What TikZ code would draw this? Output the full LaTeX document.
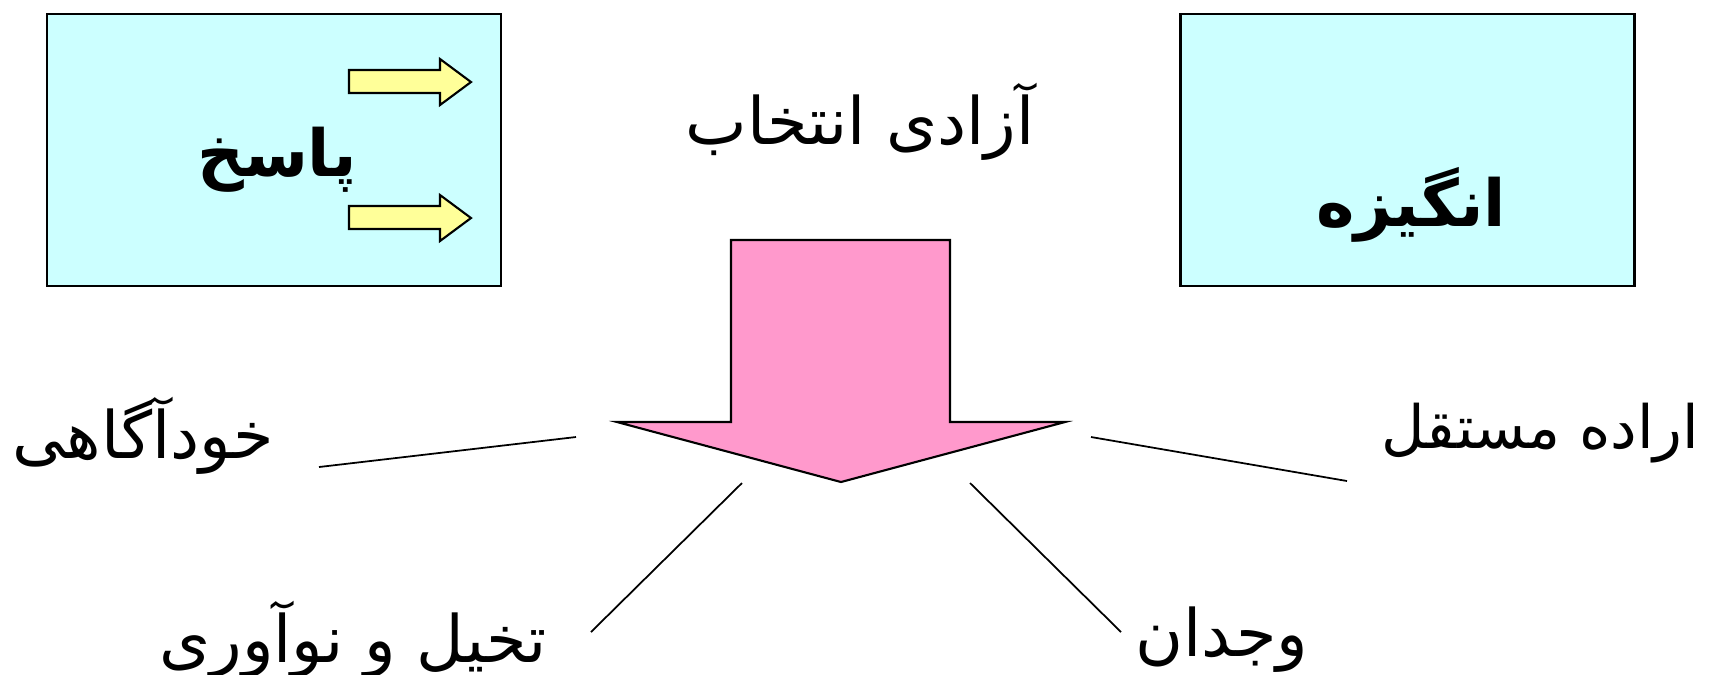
\documentclass[tikz,border=0pt]{standalone}
\usepackage{fontspec}
\newfontfamily\arabicfont[Script=Arabic]{DejaVu Sans}
\TeXXeTstate=1
\usetikzlibrary{positioning}
\definecolor{boxcyan}{HTML}{CCFFFF}
\definecolor{arrowyellow}{HTML}{FFFF99}
\definecolor{arrowpink}{HTML}{FF99CC}
\newcommand{\fa}[1]{\arabicfont\beginR #1\endR}
\begin{document}
\begin{tikzpicture}[
      every node/.style={font=\arabicfont\fontsize{18.6}{22}\selectfont, inner sep=0pt},
      panel/.style={rectangle, draw=black, line width=0.6pt, fill=boxcyan,
                    minimum width=4.54cm, minimum height=2.72cm},
      head/.style={font=\arabicfont\bfseries\fontsize{18.5}{22}\selectfont},
      link/.style={line width=0.5pt, black},
    ]
    \useasboundingbox (0,0) rectangle (17.09,-6.74);
    % the two boxes, response on the left, motive on the right
    \node[panel] (resp) at (2.74,-1.50) {};
    \node[panel] (motive) at (14.075,-1.50) {};
    \node[head] (respText) at (2.77,-1.60) {\fa{پاسخ}};
    \node[head] (motiveText) at (14.11,-2.05) {\fa{انگیزه}};
    % small yellow arrows inside the response box
    \foreach \dy in {0,-1.36} {
      \draw[line width=0.6pt, fill=arrowyellow] (3.49,-0.70+\dy) -- (4.40,-0.70+\dy)
        -- (4.40,-0.59+\dy) -- (4.71,-0.82+\dy) -- (4.40,-1.05+\dy)
        -- (4.40,-0.93+\dy) -- (3.49,-0.93+\dy) -- cycle;
    }
    \node (title) at (8.60,-1.22) {\fa{آزادی انتخاب}};
    % big pink arrow pointing down
    \draw[line width=0.6pt, fill=arrowpink] (7.31,-2.40) -- (9.50,-2.40) -- (9.50,-4.22)
      -- (10.65,-4.22) -- (8.41,-4.82) -- (6.17,-4.22) -- (7.31,-4.22) -- cycle;
    \node (self) at (1.43,-4.36) {\fa{خودآگاهی}};
    \node[anchor=east, font=\arabicfont\fontsize{17}{20}\selectfont] (will)
      at (17.00,-4.33) {\fa{اراده مستقل}};
    \node (imag) at (3.53,-6.40) {\fa{تخیل و نوآوری}};
    \node (consc) at (12.22,-6.40) {\fa{وجدان}};
    % the short lines stop short of the arrow and of the words
    \coordinate (selfStart) at (3.19,-4.67);
    \coordinate (selfEnd) at (5.76,-4.37);
    \coordinate (imagStart) at (5.91,-6.32);
    \coordinate (imagEnd) at (7.42,-4.83);
    \coordinate (conscStart) at (11.21,-6.32);
    \coordinate (conscEnd) at (9.70,-4.83);
    \coordinate (willStart) at (13.47,-4.81);
    \coordinate (willEnd) at (10.91,-4.37);
    \draw[link] (selfStart) -- (selfEnd);
    \draw[link] (imagStart) -- (imagEnd);
    \draw[link] (conscStart) -- (conscEnd);
    \draw[link] (willStart) -- (willEnd);
  \end{tikzpicture}
\end{document}
